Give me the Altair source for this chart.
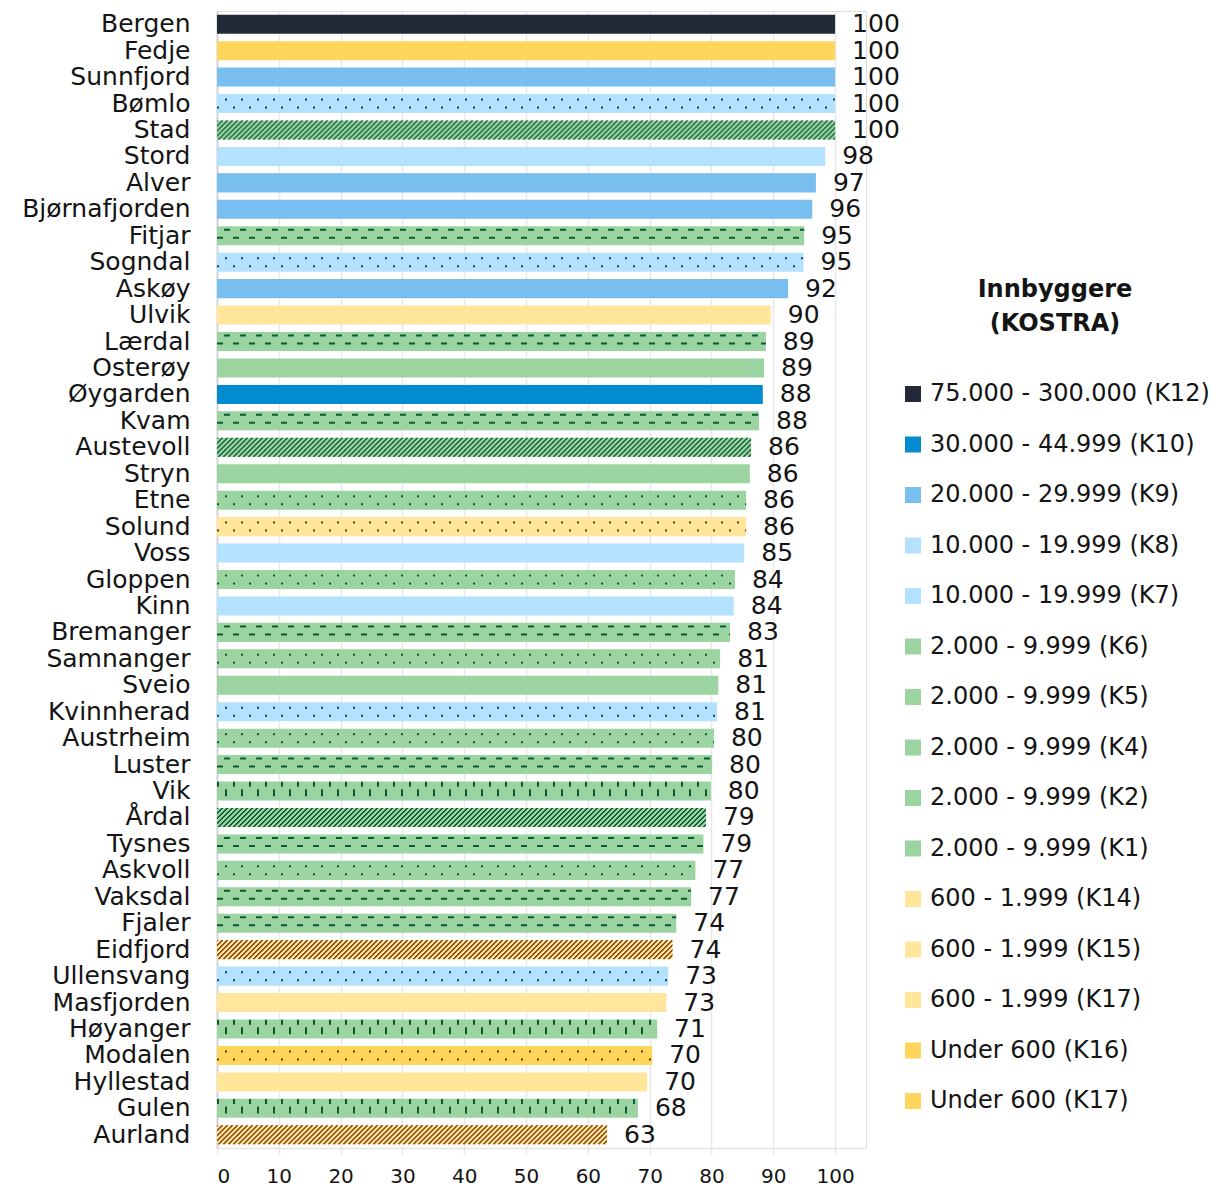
import altair as alt
import pandas as pd

# ---------------- data ----------------
names = ["Bergen", "Fedje", "Sunnfjord", "Bømlo", "Stad", "Stord", "Alver", "Bjørnafjorden",
         "Fitjar", "Sogndal", "Askøy", "Ulvik", "Lærdal", "Osterøy", "Øygarden", "Kvam",
         "Austevoll", "Stryn", "Etne", "Solund", "Voss", "Gloppen", "Kinn", "Bremanger",
         "Samnanger", "Sveio", "Kvinnherad", "Austrheim", "Luster", "Vik", "Årdal", "Tysnes",
         "Askvoll", "Vaksdal", "Fjaler", "Eidfjord", "Ullensvang", "Masfjorden", "Høyanger",
         "Modalen", "Hyllestad", "Gulen", "Aurland"]

bar_values = [100, 100, 100, 100, 100, 98.4, 96.9, 96.3,
              95.0, 94.9, 92.4, 89.6, 88.8, 88.5, 88.3, 87.7,
              86.4, 86.2, 85.6, 85.6, 85.3, 83.8, 83.6, 83.0,
              81.4, 81.1, 80.9, 80.4, 80.1, 79.9, 79.1, 78.7,
              77.4, 76.7, 74.3, 73.7, 73.0, 72.7, 71.2,
              70.4, 69.6, 68.1, 63.1]

labels = [100, 100, 100, 100, 100, 98, 97, 96,
          95, 95, 92, 90, 89, 89, 88, 88,
          86, 86, 86, 86, 85, 84, 84, 83,
          81, 81, 81, 80, 80, 80, 79, 79,
          77, 77, 74, 74, 73, 73, 71,
          70, 70, 68, 63]

groups = ["K12", "K16", "K9", "K8", "K2", "K7", "K9", "K9",
          "K5", "K8", "K9", "K14", "K5", "K1", "K10", "K5",
          "K2", "K1", "K4", "K15", "K7", "K4", "K7", "K5",
          "K4", "K1", "K8", "K4", "K5", "K6", "K2", "K5",
          "K4", "K5", "K5", "K17a", "K8", "K14", "K6",
          "K17b", "K14", "K6", "K17a"]

legend_title = ["Innbyggere\u00a0\u00a0\u00a0\u00a0\u00a0", "(KOSTRA)\u00a0\u00a0\u00a0\u00a0\u00a0"]
legend_codes = ["K12", "K10", "K9", "K8", "K7", "K6", "K5", "K4", "K2", "K1",
                "K14", "K15", "K17a", "K16", "K17b"]
legend_labels = ["75.000 - 300.000 (K12)", "30.000 - 44.999 (K10)", "20.000 - 29.999 (K9)",
                 "10.000 - 19.999 (K8)", "10.000 - 19.999 (K7)", "2.000 - 9.999 (K6)",
                 "2.000 - 9.999 (K5)", "2.000 - 9.999 (K4)", "2.000 - 9.999 (K2)",
                 "2.000 - 9.999 (K1)", "600 - 1.999 (K14)", "600 - 1.999 (K15)",
                 "600 - 1.999 (K17)", "Under 600 (K16)", "Under 600 (K17)"]
legend_colors = ["#232a37", "#038bd0", "#78bff0", "#b4e1fd", "#b4e1fd", "#9bd4a0",
                 "#9bd4a0", "#9bd4a0", "#9bd4a0", "#9bd4a0", "#ffe69b", "#ffe69b",
                 "#ffe69b", "#ffd55c", "#ffd55c"]
legend_patterns = ["solid", "solid", "solid", "dots", "solid", "vdash", "dash", "dots",
                   "hatch", "solid", "solid", "dots", "hatch", "solid", "dots"]
pattern_colors = ["#000000", "#000000", "#000000", "#0b4468", "#000000", "#0a5a34",
                  "#0a5a34", "#0a5a34", "#0a5a34", "#000000", "#000000", "#7a2e00",
                  "#7a2e00", "#000000", "#7a2e00"]

# ---------------- table ----------------
lab_of = dict(zip(legend_codes, legend_labels))
pat_of = dict(zip(legend_codes, legend_patterns))
pcol_of = dict(zip(legend_codes, pattern_colors))

df = pd.DataFrame({
    "name": names,
    "value": bar_values,
    "label": labels,
    "group": [lab_of[g] for g in groups],
    "pattern": [pat_of[g] for g in groups],
    "pcolor": [pcol_of[g] for g in groups],
})
df["zero"] = 0

FONT = "DejaVu Sans"
TXT = "#141414"

xscale = alt.Scale(domain=[0, 105], nice=False, zero=True)
yenc = alt.Y("name:N", sort=names, title=None,
             scale=alt.Scale(paddingInner=0.28, paddingOuter=0.14),
             axis=alt.Axis(ticks=False, labelFontSize=25, labelFont=FONT, labelColor=TXT,
                           labelPadding=27, domainColor="#d6d6d6", domainWidth=2,
                           minExtent=204, maxExtent=204, labelLimit=400, grid=False))

base = alt.Chart(df)

bars = base.mark_bar().encode(
    x=alt.X("value:Q", scale=xscale, title=None,
            axis=alt.Axis(values=list(range(0, 101, 10)), grid=True, gridColor="#e8e8e8",
                          gridWidth=1.5, domainColor="#e4e4e4", domainWidth=1.5,
                          tickColor="#e8e8e8", tickSize=6, tickWidth=1.5,
                          labelFontSize=20, labelFont=FONT, labelColor=TXT,
                          labelPadding=12)),
    y=yenc,
    color=alt.Color("group:N",
                    scale=alt.Scale(domain=legend_labels, range=legend_colors),
                    legend=alt.Legend(title=legend_title, orient="none",
                                      legendX=684, legendY=267,
                                      titleFont=FONT, titleFontSize=24, titleFontWeight="bold",
                                      titleColor=TXT, titleAnchor="middle", titleAlign="center",
                                      titleLineHeight=34, titlePadding=46, titleLimit=400,
                                      labelFont=FONT, labelFontSize=24, labelColor=TXT,
                                      labelLimit=400, labelOffset=5,
                                      symbolType="square", symbolSize=256,
                                      symbolStrokeWidth=0, symbolOpacity=1,
                                      rowPadding=26.5)),
)


def rule_layer(pattern, y_off, width, dash, offset):
    return base.transform_filter(alt.datum.pattern == pattern).mark_rule(
        yOffset=y_off, strokeWidth=width, strokeDash=dash, strokeDashOffset=offset
    ).encode(
        x=alt.X("zero:Q", title=None),
        x2="value:Q",
        y=alt.Y("name:N", sort=names, title=None),
        stroke=alt.Stroke("pcolor:N", scale=None),
    )


layers = [bars]
# dotted
layers.append(rule_layer("dots", -4, 2, [2, 14], 8))
layers.append(rule_layer("dots", 4, 2, [2, 14], 0))
# horizontal dashes
layers.append(rule_layer("dash", -6, 2, [6, 10], 9))
layers.append(rule_layer("dash", 2, 2, [6, 10], 0))
# vertical dashes
layers.append(rule_layer("vdash", -6.8, 5, [2, 14], 0))
layers.append(rule_layer("vdash", 1.7, 7, [2, 14], 8))
# diagonal hatch
for k in range(-9, 10):
    layers.append(rule_layer("hatch", k, 1, [2, 3], (k + 10) % 5))

text = base.mark_text(align="left", baseline="middle", dx=17, fontSize=25,
                      font=FONT, color=TXT).encode(
    x=alt.X("value:Q", title=None),
    y=alt.Y("name:N", sort=names, title=None),
    text=alt.Text("label:Q"),
)
layers.append(text)

chart = alt.layer(*layers).properties(
    width=649, height=1137,
    padding={"left": 5, "top": 3, "right": 0, "bottom": 5},
).configure_view(stroke=None).configure(background="white")

chart.save("out.html", embed_options={"renderer": "svg", "actions": False})
